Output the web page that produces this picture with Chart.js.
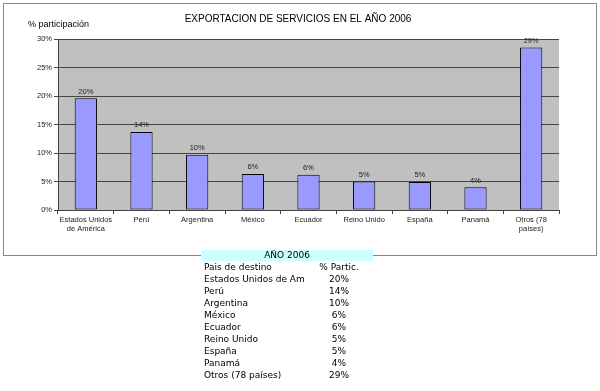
<!DOCTYPE html>
<html>
<head>
<meta charset="utf-8">
<script src="https://cdn.jsdelivr.net/npm/chart.js@4/dist/chart.umd.min.js"></script>
<style>
  body { margin: 0; background: #fff; }
  #page { position: relative; width: 600px; height: 391px; overflow: hidden; }
  #chartBox { position: absolute; left: 0; top: 0; width: 600px; height: 260px; }
  #tabla { position: absolute; left: 201px; top: 250px; width: 172px;
           font-family: "DejaVu Sans", Verdana, sans-serif; font-size: 9px; color: #000; }
  #tabla .head { height: 11px; line-height: 11px; background: #ccffff; text-align: center; }
  #tabla .row { height: 12px; line-height: 12px; display: flex; white-space: nowrap; }
  #tabla .c1 { width: 101px; padding-left: 3px; }
  #tabla .c2 { width: 68px; text-align: center; }
</style>
</head>
<body>
<div id="page">
  <div id="chartBox"><canvas id="expChart"></canvas></div>
  <div id="tabla"></div>
</div>
<script>
// datos
const chartTitle = "EXPORTACION DE SERVICIOS EN EL AÑO 2006";
const yTitle = "% participación";
const categories = ["Estados Unidos de América", "Perú", "Argentina", "México", "Ecuador",
  "Reino Unido", "España", "Panamá", "Otros (78 países)"];
const axisLabels = [["Estados Unidos", "de América"], "Perú", "Argentina", "México", "Ecuador",
  "Reino Unido", "España", "Panamá", ["Otros (78", "países)"]];
const shares = [19.6, 13.7, 9.7, 6.3, 6.2, 5.0, 4.9, 4.0, 28.5];
const yMax = 30;
const yStep = 5;
const tableHeader = "AÑO 2006";
const tableCols = ["Pais de destino", "% Partic."];

const FONT = "'Liberation Sans', Arial, sans-serif";

// tabla debajo del grafico
const tabla = document.getElementById("tabla");
let html = '<div class="head">' + tableHeader + '</div>';
html += '<div class="row"><div class="c1">' + tableCols[0] + '</div><div class="c2">' + tableCols[1] + '</div></div>';
categories.forEach((c, i) => {
  html += '<div class="row"><div class="c1">' + c.slice(0, 20) + '</div><div class="c2">' +
    Math.round(shares[i]) + '%</div></div>';
});
tabla.innerHTML = html;

const decoPlugin = {
  id: "deco",
  beforeDraw(chart) {
    const ctx = chart.ctx;
    const a = chart.chartArea;
    ctx.save();
    ctx.strokeStyle = "#8a8a8a";
    ctx.lineWidth = 1;
    ctx.strokeRect(3.5, 3.5, 593, 252);
    ctx.fillStyle = "#c0c0c0";
    ctx.fillRect(a.left, a.top, a.right - a.left, a.bottom - a.top);
    ctx.restore();
  },
  afterDatasetsDraw(chart) {
    const ctx = chart.ctx;
    ctx.save();
    ctx.fillStyle = "#222";
    ctx.font = "7.5px " + FONT;
    ctx.textAlign = "center";
    ctx.textBaseline = "bottom";
    chart.getDatasetMeta(0).data.forEach((bar, i) => {
      ctx.fillText(Math.round(shares[i]) + "%", bar.x, bar.y - 3);
    });
    ctx.fillStyle = "#000";
    ctx.font = "10px " + FONT;
    ctx.textBaseline = "middle";
    ctx.fillText(chartTitle, 298, 19);
    ctx.textAlign = "left";
    ctx.font = "9px " + FONT;
    ctx.fillText(yTitle, 28, 25);
    ctx.restore();
  }
};

new Chart(document.getElementById("expChart"), {
  type: "bar",
  data: {
    labels: axisLabels,
    datasets: [{
      data: shares,
      backgroundColor: "#9999ff",
      borderColor: "#000",
      borderWidth: 1,
      borderSkipped: false,
      categoryPercentage: 1,
      barPercentage: 0.4
    }]
  },
  options: {
    responsive: true,
    maintainAspectRatio: false,
    animation: false,
    layout: { padding: { left: 0, right: 41, top: 39, bottom: 0 } },
    plugins: {
      legend: { display: false },
      tooltip: { enabled: false }
    },
    scales: {
      x: {
        offset: true,
        afterFit: (s) => { s.height = 50; },
        grid: { offset: true, drawOnChartArea: false, color: "#444", tickLength: 4 },
        border: { color: "#444" },
        ticks: { color: "#222", font: { family: FONT, size: 7.5 }, padding: 1,
                 maxRotation: 0, autoSkip: false }
      },
      y: {
        min: 0,
        max: yMax,
        afterFit: (s) => { s.width = 58; },
        grid: { color: "#444", tickLength: 4 },
        border: { color: "#444" },
        ticks: { stepSize: yStep, color: "#222", font: { family: FONT, size: 7.5 }, padding: 2,
                 callback: (v) => v + "%" }
      }
    }
  },
  plugins: [decoPlugin]
});
</script>
</body>
</html>
